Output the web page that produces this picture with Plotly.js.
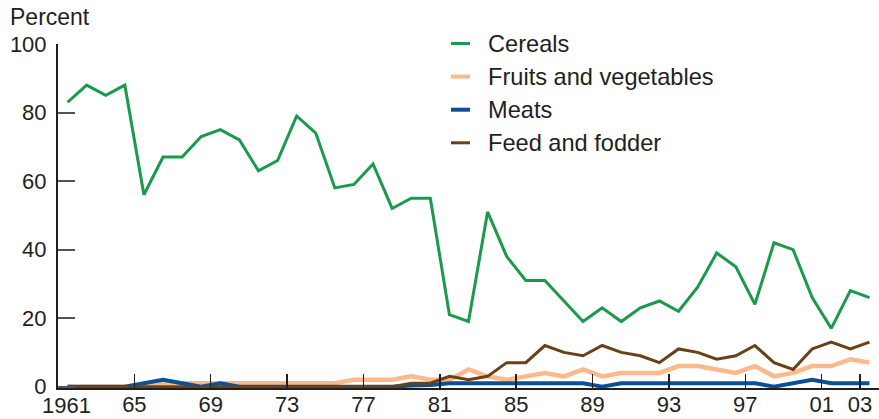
<!DOCTYPE html>
<html><head><meta charset="utf-8">
<script src="https://cdn.plot.ly/plotly-3.0.1.min.js"></script>
<style>html,body{margin:0;padding:0;background:#fff}#chart{width:879px;height:419px}</style>
</head><body><div id="chart"></div>
<script>
// ---- data ----
const years = [1961,1962,1963,1964,1965,1966,1967,1968,1969,1970,1971,1972,1973,1974,1975,1976,1977,1978,1979,1980,1981,1982,1983,1984,1985,1986,1987,1988,1989,1990,1991,1992,1993,1994,1995,1996,1997,1998,1999,2000,2001,2002,2003];
const cereals = [83,88,85,88,56,67,67,73,75,72,63,66,79,74,58,59,65,52,55,55,21,19,51,38,31,31,25,19,23,19,23,25,22,29,39,35,24,42,40,26,17,28,26];
const fruitsVeg = [0,0,0,0,0,1,1,1,1,1,1,1,1,1,1,2,2,2,3,2,2,5,3,2,3,4,3,5,3,4,4,4,6,6,5,4,6,3,4,6,6,8,7];
const meats = [0,0,0,0,1,2,1,0,1,0,0,0,0,0,0,0,0,0,0.3,0.5,1,1,1,1,1,1,1,1,0,1,1,1,1,1,1,1,1,0,1,2,1,1,1];
const feedFodder = [0,0,0,0,0,0,0,0,0,0,0,0,0,0,0,0,0,0,1,1,3,2,3,7,7,12,10,9,12,10,9,7,11,10,8,9,12,7,5,11,13,11,13];
const seriesNames = ["Cereals","Fruits and vegetables","Meats","Feed and fodder"];
const seriesColors = ["#1a9a4b","#fcb98b","#0b4f96","#6a4018"];
const seriesWidths = [3,4.5,4,3];
const tickYears = [1965,1969,1973,1977,1981,1985,1989,1993,1997,2001,2003];
const tickLabels = ["65","69","73","77","81","85","89","93","97","01","03"];
const yTicks = [0,20,40,60,80,100];
const yLabel = "Percent";
const firstYearLabel = "1961";

// ---- geometry ----
const W = 879, H = 419;
const M = {l:58, r:0, t:44, b:31};
const PW = W - M.l - M.r, PH = H - M.t - M.b;
const px = x => (x - M.l) / PW;
const py = y => (H - M.b - y) / PH;
const xs = years.map(y => y + 0.5); // values plotted at mid-year

const valuesList = [cereals, fruitsVeg, meats, feedFodder];
const drawOrder = [1, 2, 3, 0];
const traces = drawOrder.map(i => ({
  type: 'scatter', mode: 'lines', x: xs, y: valuesList[i], name: seriesNames[i],
  line: {color: seriesColors[i], width: seriesWidths[i]}, hoverinfo: 'skip'
}));

const textColor = '#231f20';
const annotations = [
  {xref:'paper', yref:'paper', x:px(8), y:py(17), xanchor:'left', yanchor:'middle', showarrow:false,
   text:yLabel, font:{size:23, color:textColor}},
  {xref:'x', yref:'paper', x:1961, xshift:8.5, y:py(405), xanchor:'center', yanchor:'middle', showarrow:false,
   text:firstYearLabel, font:{size:22, color:textColor}}
];
const shapes = [];
const legendY0 = 43.5, legendStep = 33.1;
seriesNames.forEach((n, i) => {
  const yy = legendY0 + i * legendStep;
  shapes.push({type:'line', xref:'paper', yref:'paper', x0:px(451), x1:px(470), y0:py(yy), y1:py(yy),
    line:{color:seriesColors[i], width:seriesWidths[i] === 3 ? 3 : 4}});
  annotations.push({xref:'paper', yref:'paper', x:px(486), y:py(yy), xanchor:'left', yanchor:'middle',
    showarrow:false, text:n, font:{size:23.6, color:textColor}});
});

const layout = {
  width: W, height: H, margin: M,
  paper_bgcolor:'#ffffff', plot_bgcolor:'#ffffff', showlegend:false,
  font:{family:'"Liberation Sans", Arial, sans-serif', color:textColor, size:22},
  xaxis:{range:[1961,2004], tickmode:'array', tickvals:tickYears, ticktext:tickLabels,
    ticks:'inside', ticklen:14, tickwidth:1.5, tickcolor:textColor, ticklabelstandoff:-4,
    showline:true, linecolor:textColor, linewidth:2, showgrid:false, zeroline:false,
    tickfont:{size:22, color:textColor}, fixedrange:true},
  yaxis:{range:[-0.4,100], tickmode:'array', tickvals:yTicks,
    ticks:'inside', ticklen:17, tickwidth:2, tickcolor:'#555555', ticklabelstandoff:5,
    showline:true, linecolor:textColor, linewidth:2, showgrid:false, zeroline:false,
    tickfont:{size:22, color:textColor}, fixedrange:true},
  annotations, shapes
};
Plotly.newPlot('chart', traces, layout, {displayModeBar:false, staticPlot:true});
</script></body></html>
